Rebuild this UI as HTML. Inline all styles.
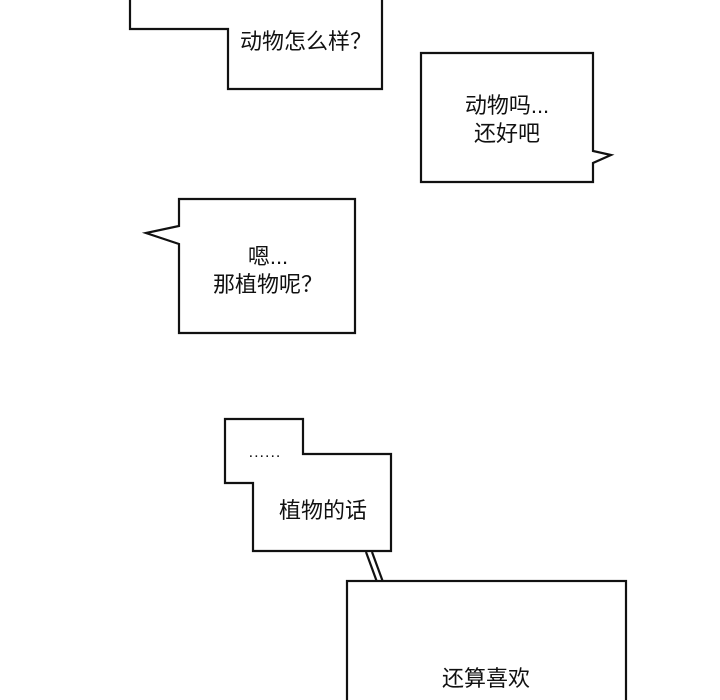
<!DOCTYPE html>
<html><head><meta charset="utf-8"><style>
html,body{margin:0;padding:0;background:#fff;width:720px;height:700px;overflow:hidden}
svg{display:block}
text{font-family:"Liberation Sans","Noto Sans CJK SC",sans-serif;font-size:22px;fill:#111;text-anchor:middle}
</style></head><body>
<svg width="720" height="700" viewBox="0 0 720 700">
<g fill="#fff" stroke="#111" stroke-width="2.2" stroke-linejoin="miter">
<polygon points="130,-5 130,29 228,29 228,89 382,89 382,-5"/>
<polygon points="421,53 593,53 593,151 611,155 593,163 593,182 421,182"/>
<polygon points="179,199 355,199 355,333 179,333 179,244 146,233 179,226"/>
<polygon points="225,419 303,419 303,454 391,454 391,551 253,551 253,483 225,483"/>
<line x1="366" y1="552" x2="377" y2="582"/>
<line x1="372" y1="552" x2="383" y2="582"/>
<rect x="347" y="581" width="279" height="130"/>
</g>
<text x="306" y="49">动物怎么样？</text>
<text x="507" y="113">动物吗...</text>
<text x="507" y="141">还好吧</text>
<text x="268" y="264">嗯...</text>
<text x="268" y="292">那植物呢？</text>
<text x="265" y="457" style="font-size:16px;letter-spacing:1px">......</text>
<text x="323" y="518">植物的话</text>
<text x="486" y="686">还算喜欢</text>
</svg>
</body></html>
